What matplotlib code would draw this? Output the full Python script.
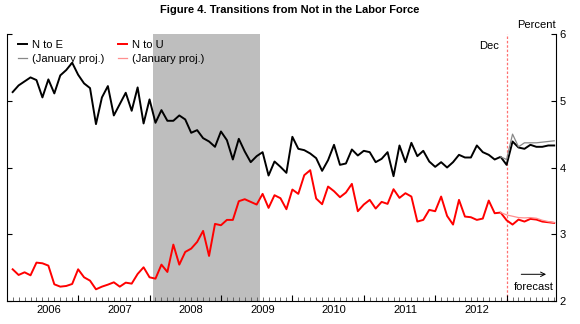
import numpy as np
import matplotlib
matplotlib.use("Agg")
import matplotlib.pyplot as plt
import matplotlib.transforms as mtransforms

plt.rcParams["font.family"] = ["Liberation Sans", "DejaVu Sans"]
plt.rcParams["font.size"] = 8

# Monthly series, Jan 2006 .. Aug 2013 (forecast after Dec 2012)
n_to_e = [5.13, 5.23, 5.29, 5.35, 5.31, 5.05, 5.32, 5.11, 5.38, 5.46, 5.57, 5.39,
          5.26, 5.19, 4.65, 5.05, 5.22, 4.78, 4.95, 5.12, 4.85, 5.20, 4.66, 5.02,
          4.67, 4.86, 4.70, 4.70, 4.78, 4.72, 4.52, 4.56, 4.44, 4.39, 4.31, 4.54,
          4.41, 4.12, 4.43, 4.24, 4.08, 4.17, 4.23, 3.88, 4.09, 4.01, 3.92, 4.46,
          4.28, 4.26, 4.21, 4.14, 3.95, 4.11, 4.34, 4.04, 4.06, 4.27, 4.18, 4.25,
          4.23, 4.08, 4.13, 4.23, 3.87, 4.33, 4.08, 4.37, 4.17, 4.25, 4.09, 4.01,
          4.08, 4.00, 4.08, 4.19, 4.15, 4.15, 4.33, 4.23, 4.19, 4.12, 4.16, 4.04,
          4.39, 4.30, 4.28, 4.34, 4.31, 4.31, 4.33, 4.33]
n_to_u = [2.475, 2.39, 2.43, 2.385, 2.575, 2.565, 2.53, 2.25, 2.215, 2.225, 2.255, 2.475,
          2.355, 2.305, 2.175, 2.215, 2.245, 2.28, 2.215, 2.275, 2.26, 2.405, 2.505, 2.355,
          2.335, 2.545, 2.435, 2.845, 2.545, 2.735, 2.785, 2.885, 3.05, 2.675, 3.155, 3.135,
          3.215, 3.215, 3.495, 3.525, 3.485, 3.445, 3.605, 3.395, 3.585, 3.54, 3.375, 3.67,
          3.605, 3.885, 3.96, 3.535, 3.45, 3.715, 3.645, 3.555, 3.625, 3.755, 3.345, 3.445,
          3.515, 3.385, 3.485, 3.455, 3.675, 3.545, 3.615, 3.565, 3.19, 3.215, 3.365, 3.345,
          3.565, 3.275, 3.145, 3.515, 3.265, 3.255, 3.215, 3.235, 3.505, 3.315, 3.325, 3.21,
          3.145, 3.22, 3.19, 3.23, 3.22, 3.19, 3.18, 3.17]

# January projections, starting Nov 2012
proj_start = 82
n_to_e_proj = [4.16, 4.12, 4.50, 4.31, 4.37, 4.37, 4.37, 4.38, 4.39, 4.40]
n_to_u_proj = [3.325, 3.29, 3.27, 3.25, 3.245, 3.25, 3.24, 3.21, 3.19, 3.175]

years = ["2006", "2007", "2008", "2009", "2010", "2011", "2012"]
recession = (23, 41)   # Dec 2007 .. Jun 2009 (month index)
dec_month = 83         # Dec 2012

months = np.arange(len(n_to_e))
proj_x = np.arange(proj_start, proj_start + len(n_to_e_proj))

fig = plt.figure(figsize=(5.8, 3.24), dpi=100)
ax = fig.add_axes([0.0126, 0.071, 0.946, 0.824])

# recession shading, drawn month by month
for m in range(recession[0], recession[1]):
    ax.axvspan(m + 0.5, m + 1.5, color="#bebebe", lw=0, zorder=0)

ax.axvline(dec_month, color="#ff7070", ls=(0, (2, 1.5)), lw=0.9, zorder=1)

l1, = ax.plot(months, n_to_e, color="black", lw=1.4, zorder=3, label="N to E")
l3, = ax.plot(months, n_to_u, color="#ff0000", lw=1.4, zorder=3, label="N to U")
l2, = ax.plot(proj_x, n_to_e_proj, color="#888888", lw=0.9, zorder=4, label="(January proj.)")
l4, = ax.plot(proj_x, n_to_u_proj, color="#ff8f8f", lw=0.9, zorder=4, label="(January proj.)")

ax.set_xlim(-0.9, 91.3)
ax.set_ylim(2, 6)

ax.spines["top"].set_visible(False)
for s in ("left", "right", "bottom"):
    ax.spines[s].set_linewidth(0.8)

ax.set_yticks([2, 3, 4, 5, 6])
ax.tick_params(axis="y", left=True, right=True, labelleft=False, labelright=True,
               direction="in", length=3.5, width=0.8, pad=2.5)

ax.set_xticks(np.arange(11, 92, 12))
ax.set_xticks(months, minor=True)
ax.tick_params(axis="x", which="major", direction="in", length=4.5, width=0.8, labelbottom=False)
ax.tick_params(axis="x", which="minor", direction="in", length=3, width=0.6, color="#555555")

trans = mtransforms.blended_transform_factory(ax.transData, ax.transAxes)
for i, yr in enumerate(years):
    ax.text(6 + 12 * i, -0.015, yr, transform=trans, ha="center", va="top")

ax.legend(handles=[l1, l2, l3, l4], ncol=2, loc="upper left", frameon=False,
          bbox_to_anchor=(0.0195, 0.977), borderaxespad=0, borderpad=0,
          handlelength=0.8, handletextpad=0.45, columnspacing=1.25, labelspacing=0.32)

ax.text(dec_month - 1.2, 5.82, "Dec", ha="right", va="center")
ax.text(88, 6.06, "Percent", ha="center", va="bottom")
ax.annotate("", xy=(90.1, 2.40), xytext=(85.0, 2.40),
            arrowprops=dict(arrowstyle="->", lw=0.7, color="black"))
ax.text(87.6, 2.21, "forecast", ha="center", va="center")

fig.text(0.5, 0.969, "Figure 4. Transitions from Not in the Labor Force",
         ha="center", va="center", fontweight="bold")

fig.savefig("out.png", dpi=100)
